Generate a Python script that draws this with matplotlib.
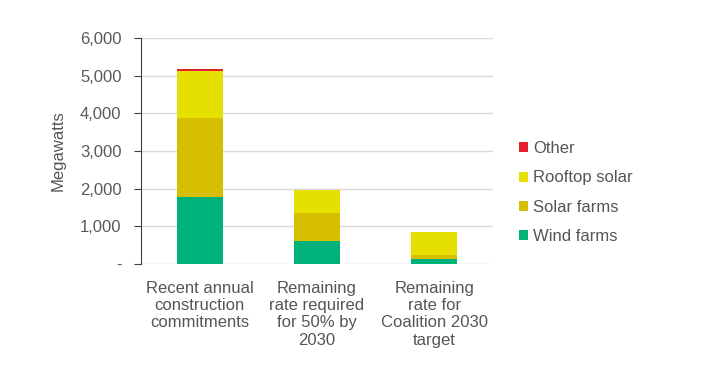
import numpy as np
import matplotlib.pyplot as plt
from matplotlib.ticker import FuncFormatter

plt.rcParams['font.family'] = ['Liberation Sans', 'DejaVu Sans']

categories = ["Recent annual\nconstruction\ncommitments",
              "Remaining\nrate required\nfor 50% by\n2030",
              "Remaining\nrate for\nCoalition 2030\ntarget"]
wind_farms = [1790, 600, 125]
solar_farms = [2100, 760, 115]
rooftop_solar = [1240, 600, 610]
other = [50, 0, 0]

series = [("Wind farms", wind_farms, "#00b27a"),
          ("Solar farms", solar_farms, "#d6bf00"),
          ("Rooftop solar", rooftop_solar, "#e5e000"),
          ("Other", other, "#e3202b")]

fig = plt.figure(figsize=(7.02, 3.66), dpi=100)
ax = fig.add_axes([0.2009, 0.2787, 0.5014, 0.6173])

x = np.arange(len(categories))
bottom = np.zeros(len(categories))
handles = []
for name, vals, col in series:
    b = ax.bar(x, vals, width=0.39, bottom=bottom, color=col, label=name, zorder=3)
    handles.append(b)
    bottom += np.array(vals)

ax.set_xlim(-0.5, 2.5)
ax.set_ylim(0, 6000)
ax.set_yticks(np.arange(0, 6001, 1000))
ax.yaxis.set_major_formatter(FuncFormatter(lambda v, p: "-" if v == 0 else "{:,.0f}".format(v)))
ax.yaxis.grid(True, color="#d9d9d9", linewidth=1, zorder=0)
ax.set_xticks(x)
ax.set_xticklabels(categories, fontsize=12, color="#555555", linespacing=1.2)
ax.tick_params(axis="x", length=0, pad=12)
ax.tick_params(axis="y", labelsize=12, labelcolor="#595959", length=5, color="#404040", pad=9)
for s in ["top", "right", "bottom"]:
    ax.spines[s].set_visible(False)
ax.spines["left"].set_color("#404040")
ax.set_ylabel("Megawatts", fontsize=12, color="#555555", labelpad=10)

leg = fig.legend(handles[::-1], [s[0] for s in series][::-1], loc="center left",
                 bbox_to_anchor=(0.718, 0.474), frameon=False, fontsize=12,
                 handlelength=0.55, handleheight=0.55, handletextpad=0.3, labelspacing=0.85)
for t in leg.get_texts():
    t.set_color("#555555")

fig.savefig("out.png", dpi=100)
